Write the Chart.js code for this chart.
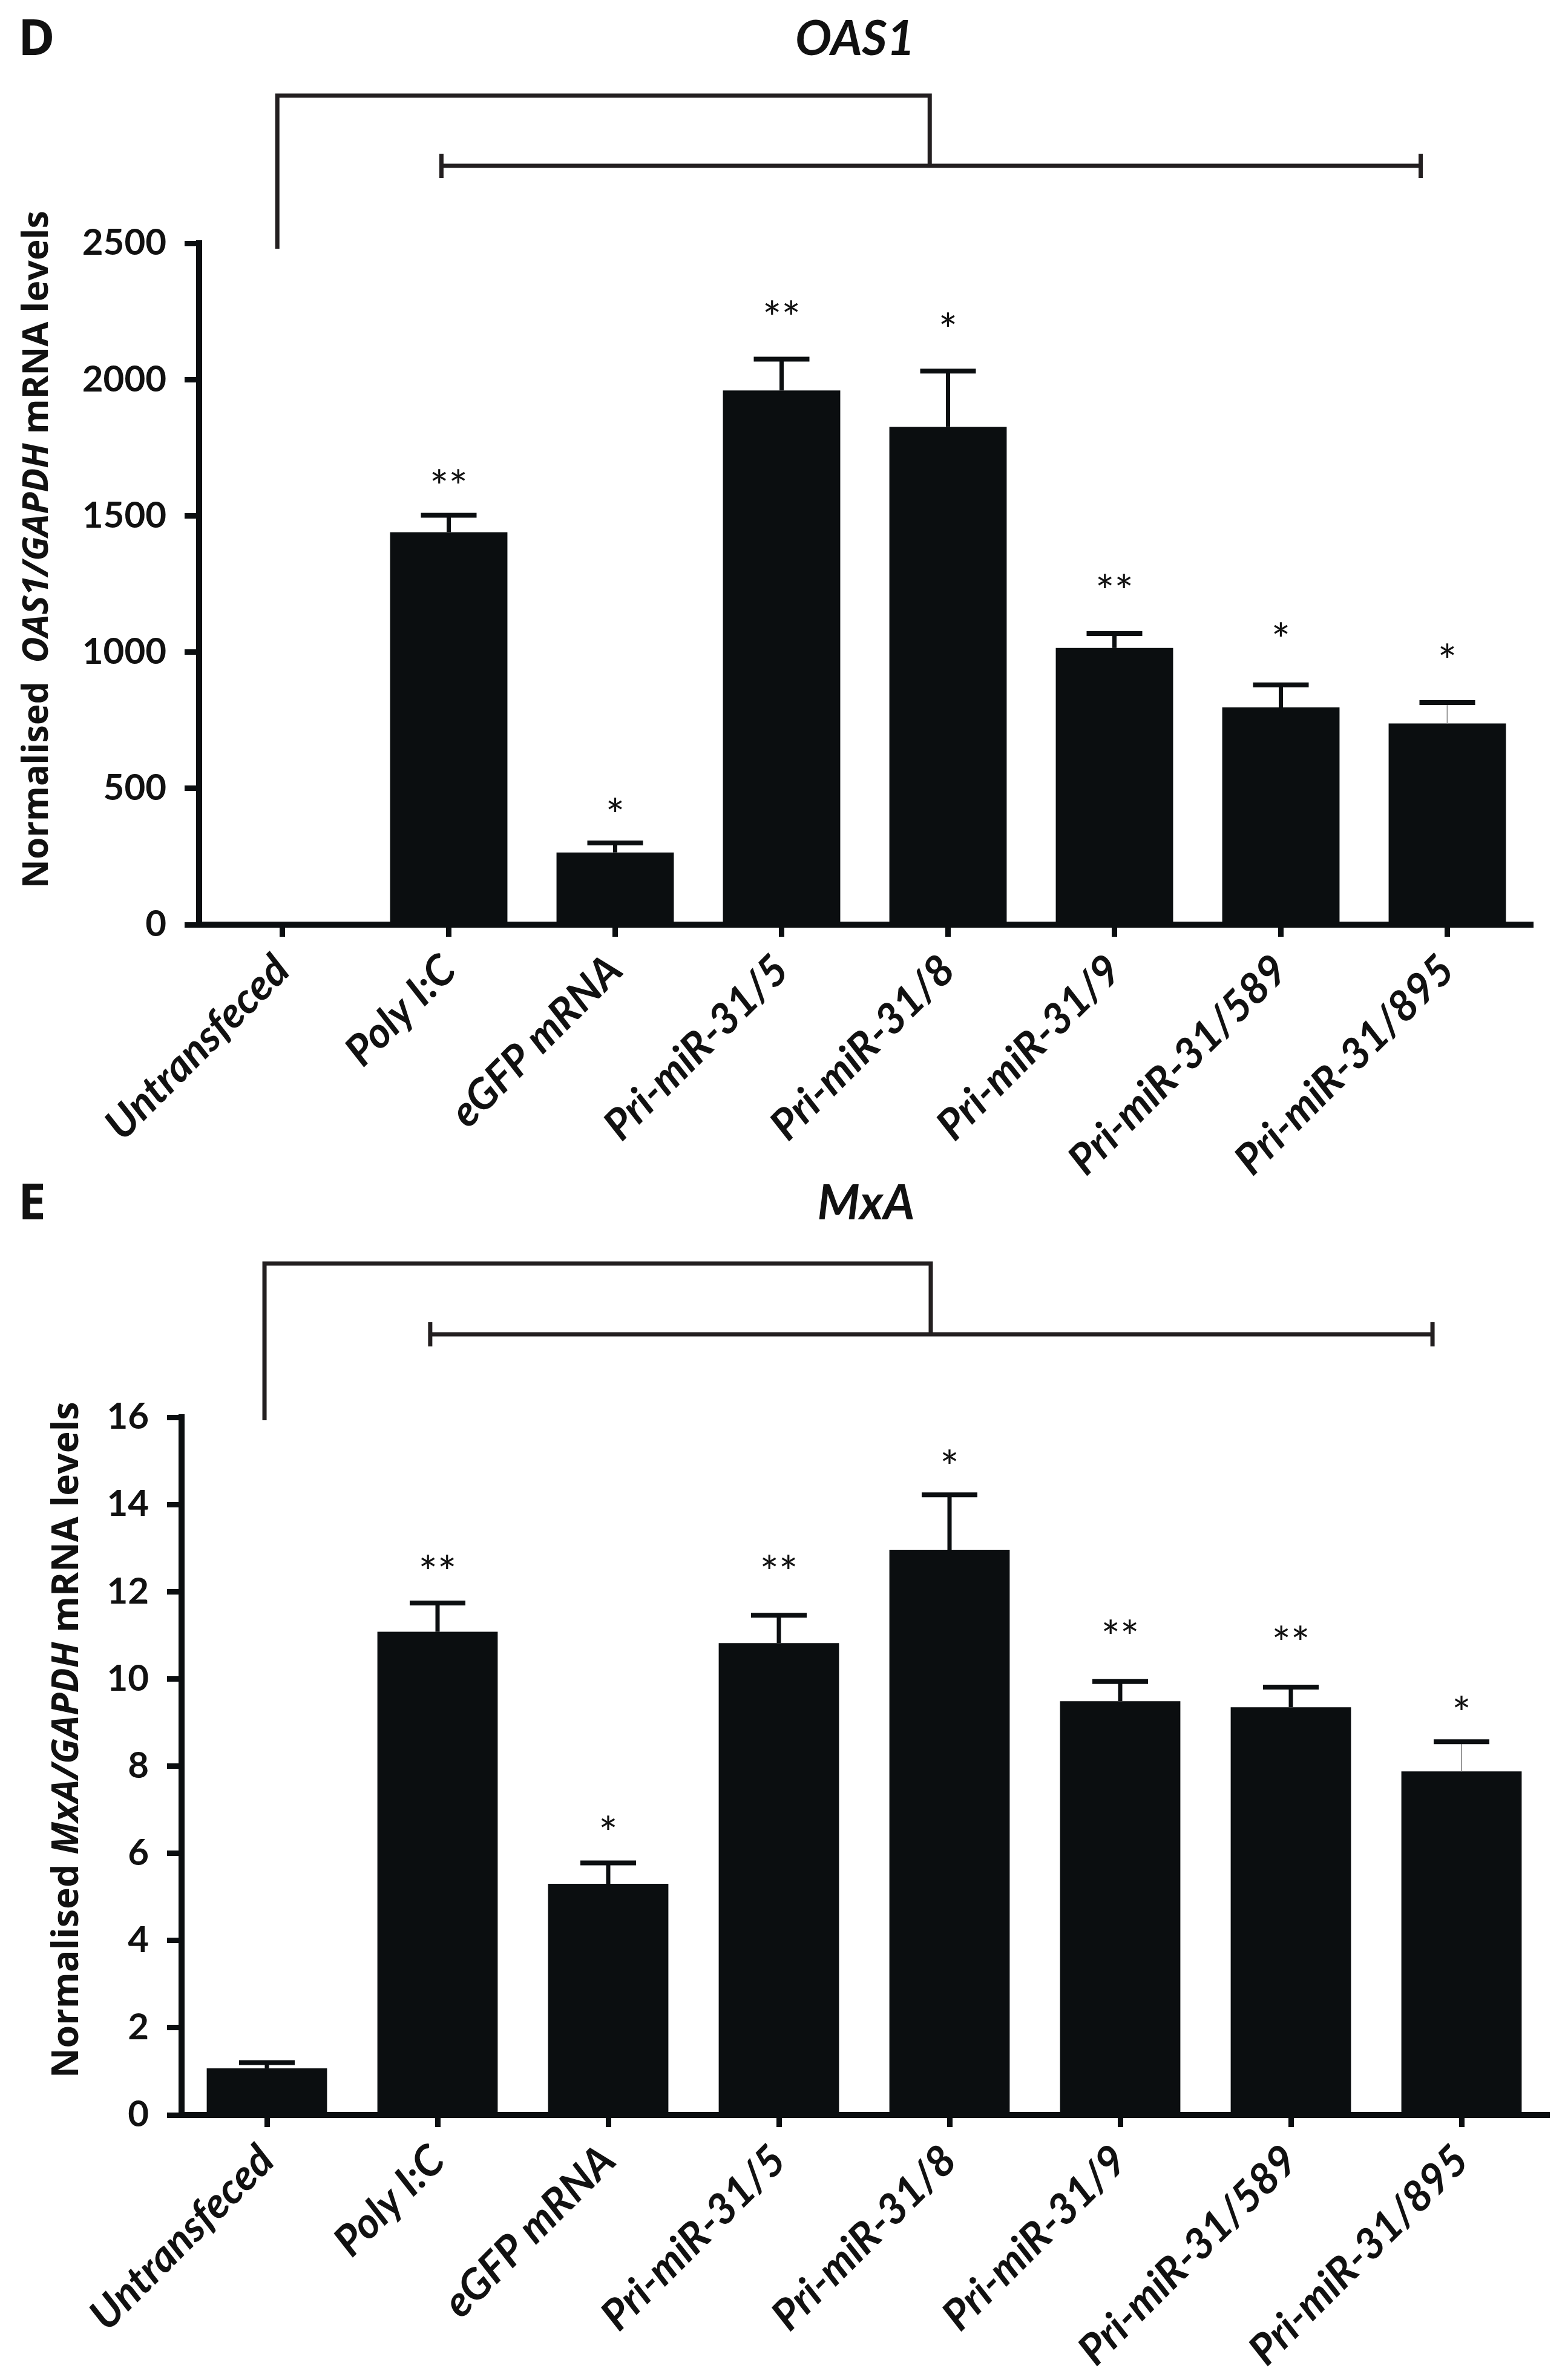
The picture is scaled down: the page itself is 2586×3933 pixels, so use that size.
<!DOCTYPE html>
<html>
<head>
<meta charset="utf-8">
<script src="https://cdn.jsdelivr.net/npm/chart.js@4.4.1/dist/chart.umd.min.js"></script>
<style>
  html, body { margin: 0; padding: 0; background: #fff; }
  body { width: 2586px; height: 3933px; position: relative; overflow: hidden; }
  canvas { position: absolute; left: 0; }
  #oasCanvas { top: 0; width: 2586px; height: 2000px; }
  #mxaCanvas { top: 1950px; width: 2586px; height: 1983px; }
</style>
</head>
<body>
<canvas id="oasCanvas" width="2586" height="2000"></canvas>
<canvas id="mxaCanvas" width="2586" height="1983"></canvas>
<script>
  // Categories (shared by both panels)
  const groups = ["Untransfeced", "Poly I:C", "eGFP mRNA", "Pri-miR-31/5",
                  "Pri-miR-31/8", "Pri-miR-31/9", "Pri-miR-31/589", "Pri-miR-31/895"];

  // Panel D - OAS1
  const oasMean = [0, 1440, 265, 1960, 1826, 1015, 797, 738];
  const oasSem = [0, 62, 35, 115, 205, 53, 83, 77];
  const oasStars = ["", "**", "*", "**", "*", "**", "*", "*"];
  const oasStarAt = [0, 1645, 440, 2265, 2220, 1262, 1083, 1005];
  const oasTicks = [0, 500, 1000, 1500, 2000, 2500];

  // Panel E - MxA
  const mxaMean = [1.07, 11.08, 5.3, 10.82, 12.96, 9.49, 9.35, 7.88];
  const mxaSem = [0.13, 0.66, 0.48, 0.64, 1.26, 0.45, 0.46, 0.68];
  const mxaStars = ["", "**", "*", "**", "*", "**", "**", "*"];
  const mxaStarAt = [0, 12.68, 6.7, 12.68, 15.1, 11.2, 11.06, 9.45];
  const mxaTicks = [0, 2, 4, 6, 8, 10, 12, 14, 16];

  const ink = "#0b0e10";
  const lineInk = "#231f20";

  // draws error bars, asterisks, brackets, titles
  const extras = {
    id: "extras",
    afterDatasetsDraw(chart, args, o) {
      const ctx = chart.ctx;
      const xs = chart.scales.x, ys = chart.scales.y;
      const area = chart.chartArea;
      const meta = chart.getDatasetMeta(0);

      // error bars (upper only)
      ctx.save();
      o.mean.forEach((m, i) => {
        if (!o.sem[i]) return;
        const bx = meta.data[i].x;
        const yTop = ys.getPixelForValue(m + o.sem[i]);
        const yBar = ys.getPixelForValue(m);
        ctx.beginPath();
        ctx.strokeStyle = i === o.thinStem ? "#9a9a9a" : ink;
        ctx.lineWidth = i === o.thinStem ? 2 : 7;
        ctx.moveTo(bx, yBar);
        ctx.lineTo(bx, yTop);
        ctx.stroke();
        ctx.beginPath();
        ctx.strokeStyle = ink;
        ctx.lineWidth = 8;
        ctx.moveTo(bx - 46, yTop);
        ctx.lineTo(bx + 46, yTop);
        ctx.stroke();
      });

      // significance stars
      ctx.fillStyle = "#111";
      ctx.font = "400 74px Lato";
      ctx.textAlign = "center";
      ctx.textBaseline = "alphabetic";
      const mm = ctx.measureText("*");
      const shift = (mm.actualBoundingBoxDescent - mm.actualBoundingBoxAscent) / 2;
      o.stars.forEach((s, i) => {
        if (!s) return;
        const cy = ys.getPixelForValue(o.starAt[i]);
        ctx.fillText(s, meta.data[i].x, cy - shift);
      });

      // comparison brackets
      const x0 = xs.getPixelForValue(0);
      const step = xs.getPixelForValue(1) - x0;
      const px = k => x0 + k * step;
      const b = o.bracket;
      const yU = area.top + b.upper, yL = area.top + b.lower;
      ctx.strokeStyle = lineInk;
      ctx.lineWidth = 7;
      ctx.beginPath();
      ctx.moveTo(px(b.left), area.top + b.leftEnd);
      ctx.lineTo(px(b.left), yU);
      ctx.lineTo(px(b.mid), yU);
      ctx.lineTo(px(b.mid), yL);
      ctx.moveTo(px(b.from), yL);
      ctx.lineTo(px(b.to), yL);
      ctx.moveTo(px(b.from), yL - 20);
      ctx.lineTo(px(b.from), yL + 20);
      ctx.moveTo(px(b.to), yL - 20);
      ctx.lineTo(px(b.to), yL + 20);
      ctx.stroke();

      // panel letter and title
      ctx.fillStyle = "#111";
      ctx.textAlign = "left";
      ctx.font = "700 82px 'Open Sans'";
      ctx.fillText(o.letter, 30, o.titleBase);
      ctx.textAlign = "center";
      ctx.font = "italic 700 80px Lato";
      ctx.fillText(o.title, o.titleX, o.titleBase);

      // y axis title with italic gene names
      const size = 100;
      const fontN = `700 ${size}px 'Open Sans'`;
      const fontI = `italic 700 ${size}px 'Open Sans'`;
      let total = 0;
      o.yTitle.forEach(seg => {
        ctx.font = seg.i ? fontI : fontN;
        total += ctx.measureText(seg.t).width;
      });
      const k = o.yTitleLen / total;
      ctx.translate(o.yTitleX, o.yTitleY);
      ctx.rotate(-Math.PI / 2);
      ctx.textAlign = "left";
      ctx.textBaseline = "middle";
      let cx = -o.yTitleLen / 2;
      o.yTitle.forEach(seg => {
        ctx.font = `${seg.i ? "italic " : ""}700 ${size * k}px 'Open Sans'`;
        ctx.fillText(seg.t, cx, 0);
        cx += ctx.measureText(seg.t).width;
      });
      ctx.restore();
    }
  };

  function makeChart(canvas, mean, ticks, opts) {
    const h = canvas.height;
    return new Chart(canvas, {
      type: "bar",
      data: {
        labels: groups,
        datasets: [{
          data: mean,
          backgroundColor: ink,
          borderWidth: 0,
          categoryPercentage: 1,
          barPercentage: 0.705
        }]
      },
      options: {
        responsive: false,
        animation: false,
        devicePixelRatio: 1,
        layout: { padding: { left: 0, right: opts.padRight, top: opts.top, bottom: 0 } },
        plugins: {
          legend: { display: false },
          tooltip: { enabled: false },
          extras: opts.extras
        },
        scales: {
          x: {
            grid: { offset: false, drawOnChartArea: false, tickLength: 20, lineWidth: 9, color: ink },
            border: { width: 10, color: ink },
            ticks: {
              autoSkip: false, minRotation: 45, maxRotation: 45, padding: 14, color: "#111",
              font: { family: "Lato", size: 70, style: "italic", weight: "bold" }
            },
            afterFit: s => { s.height = h - opts.bottom; }
          },
          y: {
            min: ticks[0],
            max: ticks[ticks.length - 1],
            afterBuildTicks: s => { s.ticks = ticks.map(v => ({ value: v })); },
            grid: { drawOnChartArea: false, tickLength: 24, lineWidth: 9, color: ink },
            border: { width: 10, color: ink },
            ticks: {
              padding: 30, color: "#111",
              font: { family: "Lato", size: 60, weight: "bold" },
              callback: v => String(v)
            },
            afterFit: s => { s.width = opts.left; }
          }
        }
      },
      plugins: [extras]
    });
  }

  const oasChart = makeChart(document.getElementById("oasCanvas"), oasMean, oasTicks, {
    left: 329, padRight: 57, top: 402, bottom: 1528,
    extras: {
      mean: oasMean, sem: oasSem, stars: oasStars, starAt: oasStarAt, thinStem: 7,
      bracket: { left: -0.03, mid: 3.89, from: 0.956, to: 6.84, upper: -244, lower: -128, leftEnd: 9 },
      letter: "D", title: "OAS1", titleX: 1413, titleBase: 91,
      yTitle: [{ t: "Normalised  " }, { t: "OAS1/GAPDH", i: true }, { t: " mRNA levels" }],
      yTitleX: 62, yTitleY: 908, yTitleLen: 1120
    }
  });

  const mxaChart = makeChart(document.getElementById("mxaCanvas"), mxaMean, mxaTicks, {
    left: 300, padRight: 30, top: 392, bottom: 1545,
    extras: {
      mean: mxaMean, sem: mxaSem, stars: mxaStars, starAt: mxaStarAt, thinStem: 7,
      bracket: { left: -0.014, mid: 3.89, from: 0.957, to: 6.83, upper: -254, lower: -137, leftEnd: 5 },
      letter: "E", title: "MxA", titleX: 1431, titleBase: 65,
      yTitle: [{ t: "Normalised " }, { t: "MxA/GAPDH", i: true }, { t: " mRNA levels" }],
      yTitleX: 112, yTitleY: 925, yTitleLen: 1118
    }
  });
</script>
</body>
</html>
